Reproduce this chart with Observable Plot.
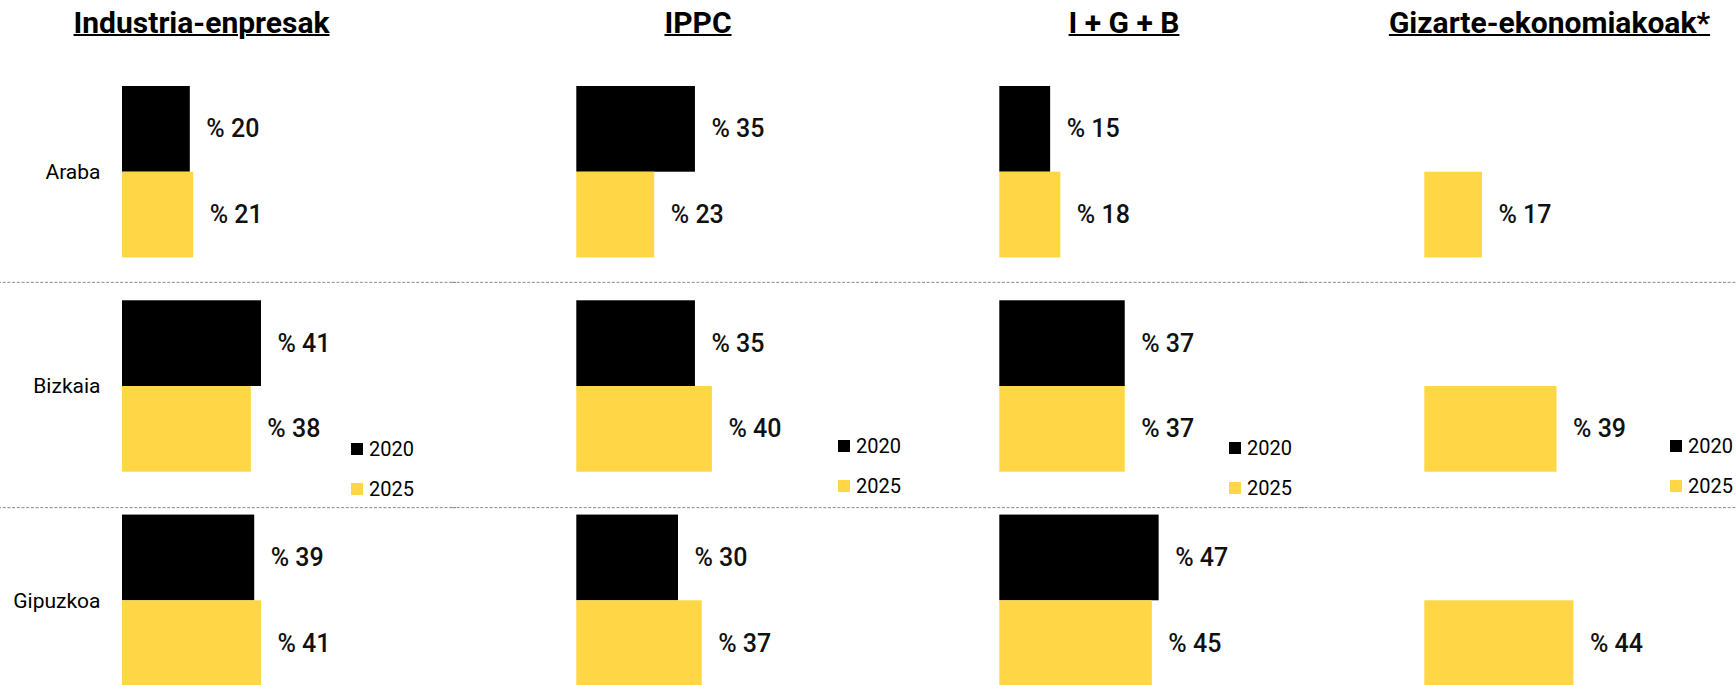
<!DOCTYPE html>
<html>
<head>
<meta charset="utf-8">
<script src="https://cdn.jsdelivr.net/npm/d3@7"></script>
<script src="https://cdn.jsdelivr.net/npm/@observablehq/plot@0.6"></script>
<style>
  html, body { margin: 0; padding: 0; background: #fff; overflow: hidden; }
  #root { position: relative; width: 1736px; height: 685px; overflow: hidden; font-family: Roboto, sans-serif; }
  .title { position: absolute; top: 8px; transform: translateX(-50%); font-family: Roboto, sans-serif; font-weight: 700; font-size: 30px; line-height: 30px; white-space: nowrap; color: #000; text-decoration: underline; text-decoration-thickness: 2px; text-underline-offset: 1px; }
  .panel { position: absolute; top: 0; }
  .lgwrap { position: absolute; z-index: 2; }
  .lg-swatch { height: 40px; padding-bottom: 0; }
  .lg-swatch > svg { margin-right: 6px; }
  .lg-swatches { margin: 0; }
</style>
</head>
<body>
<div id="root"></div>
<script>
// ---- data ----
const categories = ["Industria-enpresak", "IPPC", "I + G + B", "Gizarte-ekonomiakoak*"];
const regions = ["Araba", "Bizkaia", "Gipuzkoa"];
const years = ["2020", "2025"];
// values per category, in region order (Araba, Bizkaia, Gipuzkoa)
const values2020 = [
  [20, 41, 39],
  [35, 35, 30],
  [15, 37, 47],
  [null, null, null]
];
const values2025 = [
  [21, 38, 41],
  [23, 40, 37],
  [18, 37, 45],
  [17, 39, 44]
];
const separatorRows = ["Bizkaia", "Gipuzkoa"]; // rows preceded by a dotted line
const colors = ["#000000", "#FFD645"];

// ---- layout (pixels) ----
const panels = [
  {left: 0,    width: 454, marginLeft: 122,   titleX: 201.5,  legendX: 351,  legendY: 429, rowLabels: true},
  {left: 454,  width: 423, marginLeft: 122.3, titleX: 698,    legendX: 838,  legendY: 426, rowLabels: false},
  {left: 877,  width: 425, marginLeft: 122.3, titleX: 1124,   legendX: 1229, legendY: 428, rowLabels: false},
  {left: 1302, width: 434, marginLeft: 122.3, titleX: 1549.5, legendX: 1670, legendY: 426, rowLabels: false}
];
const xSpan = 169.5; // pixels for 0..50 %
const sepDy = {Bizkaia: -61.3, Gipuzkoa: -50.3};

const root = document.getElementById("root");

categories.forEach((cat, ci) => {
  const p = panels[ci];
  const rows = [];
  regions.forEach((r, ri) => {
    if (values2020[ci][ri] != null) rows.push({region: r, year: "2020", value: values2020[ci][ri]});
    if (values2025[ci][ri] != null) rows.push({region: r, year: "2025", value: values2025[ci][ri]});
  });

  const marks = [];
  separatorRows.forEach(r => {
    marks.push(Plot.ruleY([{region: r, year: "2020"}], {
      y: "year", fy: "region",
      dy: sepDy[r],
      stroke: "#8a8a8a", strokeWidth: 1, strokeDasharray: "3,1.7",
      insetLeft: -p.marginLeft - 2,
      insetRight: -(p.width - p.marginLeft - xSpan) - 2
    }));
  });
  marks.push(Plot.barX(rows, {x: "value", y: "year", fy: "region", fill: "year"}));
  marks.push(Plot.text(rows, {
    x: "value", y: "year", fy: "region",
    text: d => `% ${d.value}`,
    textAnchor: "start", dx: 16,
    fontSize: 25, fontWeight: 500, fill: "#111"
  }));
  if (p.rowLabels) {
    marks.push(Plot.axisFy({anchor: "left", tickSize: 0, tickPadding: 22, fontSize: 21, label: null, fill: "#000"}));
  }

  const chart = Plot.plot({
    width: p.width,
    height: 686,
    marginLeft: p.marginLeft,
    marginRight: p.width - p.marginLeft - xSpan,
    marginTop: 86,
    marginBottom: 0,
    style: {fontFamily: "Roboto, sans-serif", background: "transparent", overflow: "visible"},
    x: {domain: [0, 50], axis: null},
    y: {domain: years, padding: 0, round: false, axis: null},
    fy: {domain: regions, paddingInner: 0.2, paddingOuter: 0, round: false, axis: p.rowLabels ? undefined : null, label: null},
    color: {domain: years, range: colors},
    marks
  });
  const wrap = document.createElement("div");
  wrap.className = "panel";
  wrap.style.left = p.left + "px";
  wrap.style.width = p.width + "px";
  wrap.appendChild(chart);
  root.appendChild(wrap);

  const t = document.createElement("div");
  t.className = "title";
  t.style.left = p.titleX + "px";
  t.textContent = cat;
  root.appendChild(t);

  const lg = Plot.legend({
    color: {domain: years, range: colors},
    legend: "swatches",
    columns: 1,
    swatchSize: 12,
    className: "lg",
    style: {fontSize: "20px", fontFamily: "Roboto, sans-serif", color: "#000"}
  });
  const lw = document.createElement("div");
  lw.className = "lgwrap";
  lw.style.left = p.legendX + "px";
  lw.style.top = p.legendY + "px";
  lw.appendChild(lg);
  root.appendChild(lw);
});
</script>
</body>
</html>
